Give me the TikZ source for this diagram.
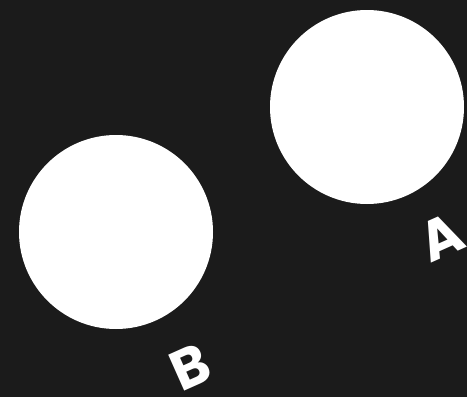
\documentclass[tikz,border=0pt]{standalone}
\usepackage{fontspec}
\newfontfamily\lblfont{Poppins}
\definecolor{bgcol}{HTML}{1B1B1B}
\definecolor{discol}{HTML}{FFFFFF}

\begin{document}
\begin{tikzpicture}[x=1pt,y=-1pt,
  disc/.style={circle,fill=discol,draw=none,minimum size=194pt,inner sep=0pt},
  lbl/.style={text=discol,inner sep=0pt,rotate=24,
    font=\lblfont\bfseries\fontsize{56}{56}\selectfont}]

  \fill[bgcol] (0,0) rectangle (467,397);
  \useasboundingbox (0,0) rectangle (467,397);

  \node[disc] (circA) at (367,107) {};
  \node[disc] (circB) at (116,232) {};

  \node[lbl] (lblA) at (441,237) {A};
  \node[lbl] (lblB) at (190,367) {B};

\end{tikzpicture}
\end{document}
